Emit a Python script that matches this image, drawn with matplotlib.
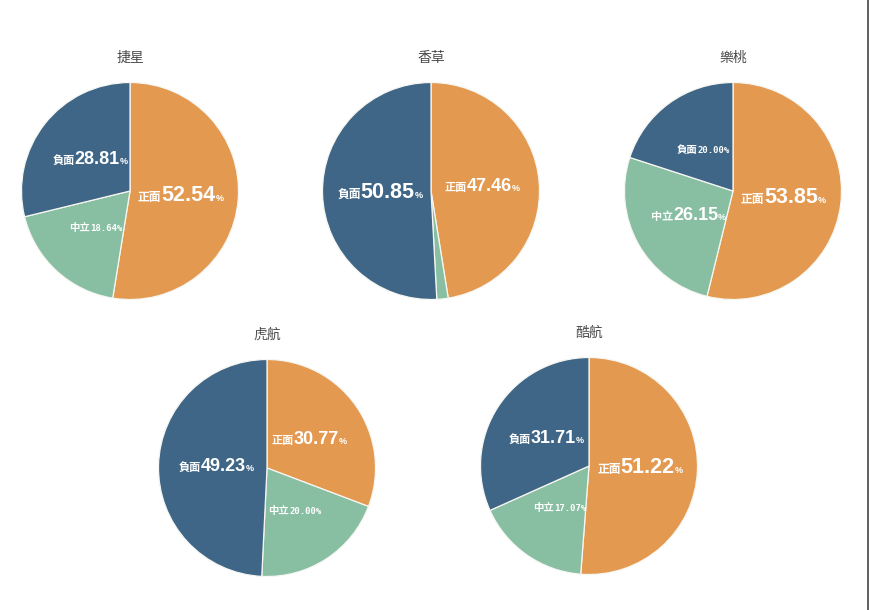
import matplotlib
matplotlib.use('Agg')
import matplotlib.pyplot as plt
import numpy as np
from matplotlib.offsetbox import TextArea, HPacker, AnnotationBbox
from matplotlib.lines import Line2D

# ---- data ----
airlines = ['捷星', '香草', '樂桃', '虎航', '酷航']
sentiments = ['正面', '中立', '負面']
positive = [52.54, 47.46, 53.85, 30.77, 51.22]
neutral = [18.64, 1.69, 26.15, 20.00, 17.07]
negative = [28.81, 50.85, 20.00, 49.23, 31.71]

# ---- style ----
colors = ['#E3994F', '#88BEA1', '#3F6686']
W, H = 870, 610
centers = [(130, 191), (431, 191), (733, 191), (267, 468), (589, 466)]
R = 108.5
cjk = ['Noto Sans CJK TC', 'DejaVu Sans']

fig = plt.figure(figsize=(W / 100, H / 100), dpi=100)
fig.patch.set_facecolor('white')

for i, name in enumerate(airlines):
    cx, cy = centers[i]
    ax = fig.add_axes([(cx - R) / W, (H - cy - R) / H, 2 * R / W, 2 * R / H])
    vals = [positive[i], neutral[i], negative[i]]
    wedges, _ = ax.pie(vals, colors=colors, startangle=90, counterclock=False,
                       radius=1.0,
                       wedgeprops=dict(edgecolor='#F6F6F2', linewidth=0.9))
    ax.set_xlim(-1.0, 1.0)
    ax.set_ylim(-1.0, 1.0)
    ax.set_aspect('equal')
    ax.axis('off')
    ax.text(0, 1.23, name, ha='center', va='center', fontsize=10,
            color='#4A4A4A', family=cjk, clip_on=False)

    for w, v, lab in zip(wedges, vals, sentiments):
        if v < 5:
            continue
        mid = np.deg2rad((w.theta1 + w.theta2) / 2)
        x, y = 0.47 * np.cos(mid), 0.47 * np.sin(mid)
        if v >= 25:
            if v >= 50:
                nsize, psize = 15.5, 8.5
            else:
                nsize, psize = 13, 8
            children = [
                TextArea(lab, textprops=dict(color='white', fontsize=psize,
                                             family=cjk, weight='bold')),
                TextArea(f'{v:.2f}', textprops=dict(color='white', fontsize=nsize,
                                                    family='Liberation Sans', weight='bold')),
                TextArea('%', textprops=dict(color='white', fontsize=6.5,
                                             family='Liberation Sans', weight='bold')),
            ]
        else:
            children = [
                TextArea(lab, textprops=dict(color='white', fontsize=7.5,
                                             family=cjk, weight='bold')),
                TextArea(f'{v:.2f}%', textprops=dict(color='white', fontsize=6.5,
                                                     family='DejaVu Sans Mono', weight='bold')),
            ]
        pack = HPacker(children=children, align='baseline', pad=0, sep=0)
        ab = AnnotationBbox(pack, (x, y), xycoords='data', frameon=False,
                            box_alignment=(0.5, 0.5), pad=0, annotation_clip=False)
        ax.add_artist(ab)

fig.add_artist(Line2D([868 / W, 868 / W], [0, 1], transform=fig.transFigure,
                      color='#444444', linewidth=1.2))

fig.savefig('out.png', dpi=100, facecolor='white')
